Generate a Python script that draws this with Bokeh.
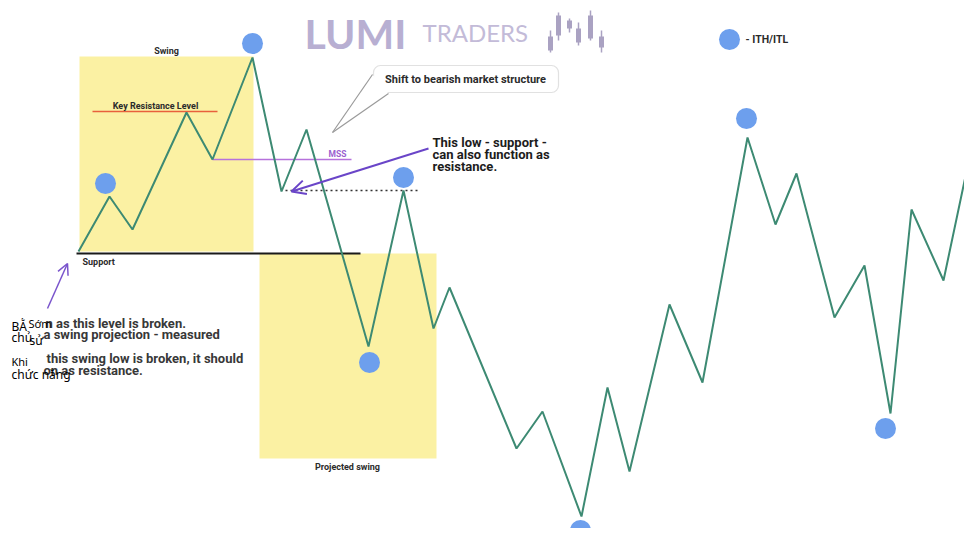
from bokeh.plotting import figure
from bokeh.models import Range1d, BoxAnnotation, Arrow, OpenHead
from bokeh.core.properties import value
from bokeh.embed import file_html
from bokeh.resources import INLINE

# ---- data (x = time position, y = price level) ----
path_x = [78, 109, 132, 186, 212, 252, 281, 306, 368, 403, 433, 449, 516, 542, 581, 607, 629, 669, 702, 747, 775, 796, 834, 864, 890, 911, 943, 985]
path_y = [293, 348, 315, 432, 385, 487, 353, 415, 198, 354, 216, 257, 96, 133, 28, 157, 73, 240, 162, 407, 320, 371, 227, 279, 131, 335, 264, 463]

ith_x = [105, 252, 403, 369, 580, 746, 885]
ith_y = [361, 501, 367, 182, 14, 426, 116]

swing_box = dict(left=79, right=253, bottom=293, top=488)
proj_box = dict(left=259, right=436, bottom=86, top=291)

key_res_x = [92, 217]; key_res_y = [433, 433]
mss_x = [212, 351]; mss_y = [385, 385]
support_x = [76, 360]; support_y = [291, 291]
low_x = [285, 418]; low_y = [354, 354]

# logo candles
candle_x = [550, 558, 569, 578, 590, 601]
candle_wick_lo = [492, 504, 512, 499, 504, 492]
candle_wick_hi = [514, 532, 526, 522, 534, 514]
candle_body_lo = [494, 509, 516, 502, 506, 497]
candle_body_hi = [508, 529, 524, 516, 529, 508]

GREEN = "#3d8a73"
BLUE = "#6d9fed"
YELLOW = "#fbf1a3"
DARK = "#2b2b2b"

p = figure(width=964, height=528, output_backend="svg", toolbar_location=None,
           x_range=Range1d(0, 964), y_range=Range1d(16, 544), min_border=0)
p.axis.visible = False
p.grid.visible = False
p.outline_line_color = None
p.background_fill_color = "white"

p.add_layout(BoxAnnotation(fill_color=YELLOW, fill_alpha=1, line_color=None, level="underlay", **swing_box))
p.add_layout(BoxAnnotation(fill_color=YELLOW, fill_alpha=1, line_color=None, level="underlay", **proj_box))

# levels
p.line(key_res_x, key_res_y, line_color="#e8603c", line_width=1.5)
p.line(mss_x, mss_y, line_color="#b672dc", line_width=1.5)
p.line(support_x, support_y, line_color="#1a1a1a", line_width=2)
p.line(low_x, low_y, line_color="#333333", line_width=1.5, line_dash="2 3")

# price path
p.line(path_x, path_y, line_color=GREEN, line_width=2)

# ITH / ITL markers
p.scatter(ith_x, ith_y, size=21, fill_color=BLUE, line_color=None)

# arrows
p.add_layout(Arrow(x_start=428, y_start=396, x_end=291, y_end=353, line_color="#6a45c8", line_width=2,
                   end=OpenHead(size=14, line_color="#6a45c8", line_width=2)))
p.add_layout(Arrow(x_start=47, y_start=236, x_end=67, y_end=281, line_color="#7a55cc", line_width=1.5,
                   end=OpenHead(size=11, line_color="#7a55cc", line_width=1.5)))

# callout bubble
p.add_layout(BoxAnnotation(left=373, right=558, bottom=452, top=479, fill_color="white", fill_alpha=1,
                           line_color="#9a9a9a", line_width=1.2, border_radius=7, level="underlay"))
p.patch([372, 332, 388], [470, 412, 451], fill_color="white", line_color=None)
p.line([372, 332], [470, 412], line_color="#9a9a9a", line_width=1.2)
p.line([388, 332], [451, 412], line_color="#9a9a9a", line_width=1.2)

BOLD = value("Roboto")

def txt(x, y, s, size, color=DARK, align="left", style="bold", font=BOLD):
    p.text([x], [y], text=[s], text_font=font, text_font_size=size, text_color=color,
           text_align=align, text_baseline="middle", text_font_style=style)

txt(166, 494, "Swing", "9px", align="center")
txt(155, 439, "Key Resistance Level", "9px", align="center")
txt(82, 283, "Support", "9px")
txt(347, 78, "Projected swing", "9px", align="center")
txt(328, 391, "MSS", "8.5px", color="#9b5fd0")
txt(465, 465, "Shift to bearish market structure", "11px", align="center")
txt(432, 402, "This low - support -", "13px", color="#1c1c1c")
txt(432, 390, "can also function as", "13px", color="#1c1c1c")
txt(432, 378, "resistance.", "13px", color="#1c1c1c")
txt(745, 505, "- ITH/ITL", "10.5px")
p.scatter([729], [505], size=21, fill_color=BLUE, line_color=None)

# bottom-left partially covered text
txt(45, 221, "n as this level is broken.", "13px", color="#383838")
txt(43, 210, "a swing projection - measured", "13px", color="#383838")
txt(46, 186, "this swing low is broken, it should", "13px", color="#383838")
txt(43, 174, "on as resistance.", "13px", color="#383838")
OV = value("Noto Sans")
txt(11, 218, "BẰ", "12px", color="black", style="normal", font=OV)
txt(28, 221, "Sớm", "11px", color="black", style="normal", font=OV)
txt(11, 207, "chủ", "12px", color="black", style="normal", font=OV)
txt(29, 204, "sử", "12px", color="black", style="normal", font=OV)
txt(11, 183, "Khi", "11px", color="black", style="normal", font=OV)
txt(11, 170, "chức năng", "12px", color="black", style="normal", font=OV)

# logo
txt(304, 511, "LUMI", "41px", color="#b8afd2", font=value("Lato"))
txt(422, 512, "TRADERS", "24px", color="#c3bbd8", style="normal", font=value("Lato"))
p.segment(candle_x, candle_wick_lo, candle_x, candle_wick_hi, line_color="#aaa2c2", line_width=1.5)
p.vbar(x=candle_x, bottom=candle_body_lo, top=candle_body_hi, width=5, fill_color="#aaa2c2", line_color=None)

open("out.html", "w").write(file_html(p, INLINE))
